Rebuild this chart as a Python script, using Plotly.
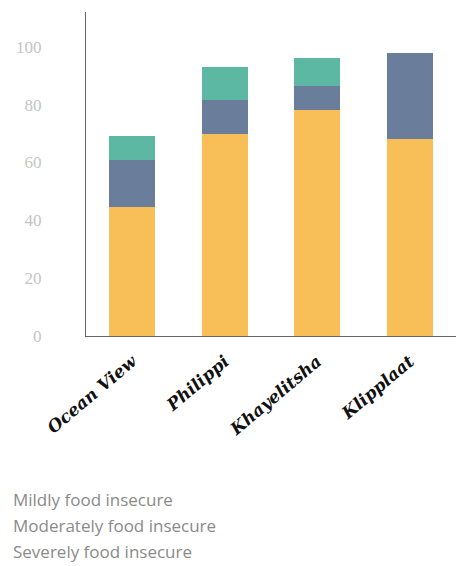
import plotly.graph_objects as go

categories = ["Ocean View", "Philippi", "Khayelitsha", "Klipplaat"]
severely = [44.5, 70, 78, 68]
moderately = [16.5, 11.5, 8.5, 30]
mildly = [8, 11.5, 9.5, 0]
series_names = ["Mildly food insecure", "Moderately food insecure", "Severely food insecure"]
y_ticks = [0, 20, 40, 60, 80, 100]

fig = go.Figure()
fig.add_bar(x=categories, y=severely, name=series_names[2], marker_color="#F8BF58", marker_line_width=0)
fig.add_bar(x=categories, y=moderately, name=series_names[1], marker_color="#6A7D9B", marker_line_width=0)
fig.add_bar(x=categories, y=mildly, name=series_names[0], marker_color="#5DB8A3", marker_line_width=0)

fig.update_layout(
    width=458, height=566,
    margin=dict(l=86, r=2, t=12, b=230),
    barmode="stack", bargap=0.5,
    plot_bgcolor="white", paper_bgcolor="white",
    showlegend=False,
)
fig.update_yaxes(
    range=[0, 112], tickvals=y_ticks, showgrid=False, zeroline=False,
    showline=True, linecolor="#666", linewidth=1,
    tickfont=dict(family="Liberation Serif", size=17, color="#c4c4c4"),
    ticks="", ticklabelstandoff=40,
)
fig.update_xaxes(
    showgrid=False, showline=True, linecolor="#666", linewidth=1,
    tickangle=-40, ticks="", ticklabelstandoff=8,
    tickfont=dict(family="DejaVu Serif", size=17, color="#111", weight="bold", style="italic"),
)

plot_h = 336 - 12
plot_w = 458 - 86 - 2
for i, name in enumerate(series_names):
    ypix = 499 + 26 * i
    fig.add_annotation(
        text=name, xref="paper", yref="paper",
        x=(11 - 86) / plot_w, y=(336 - ypix) / plot_h,
        xanchor="left", yanchor="middle", showarrow=False,
        font=dict(family="Open Sans", size=17, color="#8a8a8a"),
    )

fig.write_html("out.html")
